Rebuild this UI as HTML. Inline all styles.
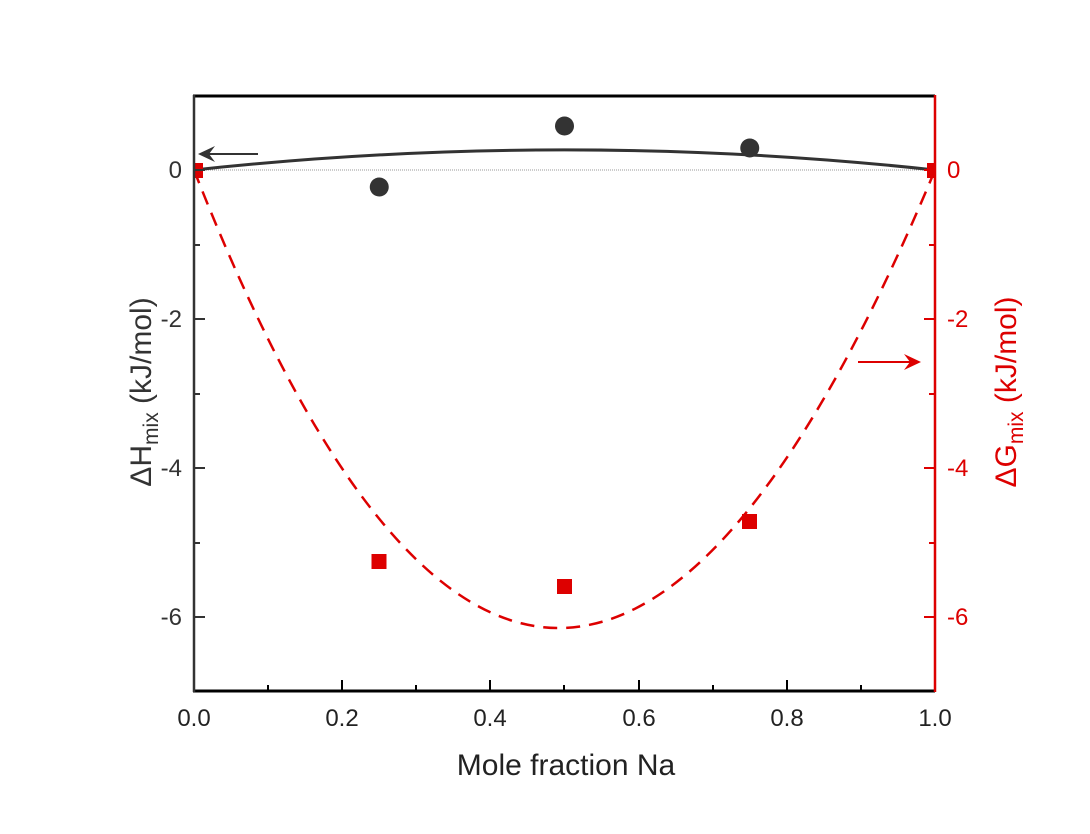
<!DOCTYPE html>
<html><head><style>body{margin:0;background:#fff}svg{display:block}text{font-family:"Liberation Sans",Arial,sans-serif}</style></head>
<body>
<svg width="1090" height="834" viewBox="0 0 1090 834">
<defs><clipPath id="c"><rect x="194" y="96" width="741" height="596"/></clipPath></defs>
<line x1="194" y1="170" x2="935" y2="170" stroke="#999" stroke-width="1" stroke-dasharray="1,1"/>
<g clip-path="url(#c)">
<path d="M194,170 Q553,1086 935,170" fill="none" stroke="#d00" stroke-width="2.5" stroke-dasharray="14,9"/>
<path d="M194,170 Q564.5,129.8 935,170" fill="none" stroke="#333" stroke-width="3"/>
<g fill="#333"><circle cx="379.25" cy="187" r="9.5"/><circle cx="564.5" cy="126" r="9.5"/><circle cx="749.75" cy="148" r="9.5"/></g>
<g fill="#d00"><rect x="188" y="163" width="15" height="15"/><rect x="927" y="163" width="15" height="15"/><rect x="371.5" y="554" width="15" height="15"/><rect x="557" y="579" width="15" height="15"/><rect x="742" y="514" width="15" height="15"/></g>
</g>
<line x1="193" y1="96" x2="935" y2="96" stroke="#000" stroke-width="3"/>
<line x1="193" y1="691" x2="935" y2="691" stroke="#000" stroke-width="3"/>
<line x1="194" y1="95" x2="194" y2="692" stroke="#333" stroke-width="2.5"/>
<line x1="935" y1="95" x2="935" y2="692" stroke="#d00" stroke-width="2.5"/>
<g stroke="#000" stroke-width="2">
<line x1="342" y1="691" x2="342" y2="680"/><line x1="490" y1="691" x2="490" y2="680"/><line x1="639" y1="691" x2="639" y2="680"/><line x1="787" y1="691" x2="787" y2="680"/>
<line x1="268" y1="691" x2="268" y2="685"/><line x1="416" y1="691" x2="416" y2="685"/><line x1="564" y1="691" x2="564" y2="685"/><line x1="713" y1="691" x2="713" y2="685"/><line x1="861" y1="691" x2="861" y2="685"/>
</g>
<g stroke="#333" stroke-width="2">
<line x1="194" y1="170" x2="205" y2="170"/><line x1="194" y1="319" x2="205" y2="319"/><line x1="194" y1="468" x2="205" y2="468"/><line x1="194" y1="617" x2="205" y2="617"/>
<line x1="194" y1="245" x2="200" y2="245"/><line x1="194" y1="394" x2="200" y2="394"/><line x1="194" y1="543" x2="200" y2="543"/>
</g>
<g stroke="#d00" stroke-width="2">
<line x1="935" y1="170" x2="924" y2="170"/><line x1="935" y1="319" x2="924" y2="319"/><line x1="935" y1="468" x2="924" y2="468"/><line x1="935" y1="617" x2="924" y2="617"/>
<line x1="935" y1="245" x2="929" y2="245"/><line x1="935" y1="394" x2="929" y2="394"/><line x1="935" y1="543" x2="929" y2="543"/>
</g>
<g font-size="24" fill="#333" text-anchor="end">
<text x="182" y="178">0</text><text x="182" y="327">-2</text><text x="182" y="476">-4</text><text x="182" y="625">-6</text>
</g>
<g font-size="24" fill="#d00" text-anchor="start">
<text x="947" y="178">0</text><text x="947" y="327">-2</text><text x="947" y="476">-4</text><text x="947" y="625">-6</text>
</g>
<g font-size="24" fill="#222" text-anchor="middle">
<text x="194" y="726">0.0</text><text x="342" y="726">0.2</text><text x="490" y="726">0.4</text><text x="639" y="726">0.6</text><text x="787" y="726">0.8</text><text x="935" y="726">1.0</text>
</g>
<text x="566" y="775" font-size="30" fill="#222" text-anchor="middle">Mole fraction Na</text>
<text transform="translate(151,392) rotate(-90)" font-size="30" fill="#333" text-anchor="middle">ΔH<tspan font-size="21" dy="7">mix</tspan><tspan dy="-7"> (kJ/mol)</tspan></text>
<text transform="translate(1016,392) rotate(-90)" font-size="30" fill="#d00" text-anchor="middle">ΔG<tspan font-size="21" dy="7">mix</tspan><tspan dy="-7"> (kJ/mol)</tspan></text>
<line x1="258" y1="154" x2="200" y2="154" stroke="#333" stroke-width="2"/>
<path d="M198,154 L215,146 L209,154 L215,162 Z" fill="#333"/>
<line x1="858" y1="362" x2="918" y2="362" stroke="#d00" stroke-width="2"/>
<path d="M921,362 L904,354 L910,362 L904,370 Z" fill="#d00"/>
</svg>
</body></html>
